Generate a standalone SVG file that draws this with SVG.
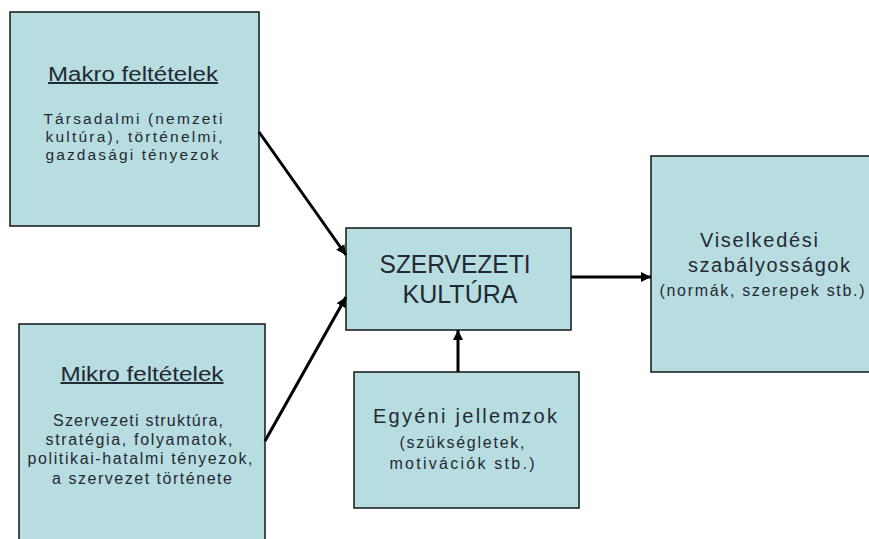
<svg xmlns="http://www.w3.org/2000/svg" width="869" height="539" viewBox="0 0 869 539">
<style>
.box{fill:#B8DDE1;stroke:#1e2426;stroke-width:1.6}
.t{font-family:"Liberation Sans",Arial,sans-serif;fill:#1f2a33;text-anchor:middle}
.title{font-size:20px;text-decoration:underline}
.body{font-size:16px}
.mk{font-size:15.5px}
.big{font-size:25px}
.mid{font-size:20px}
.conn{stroke:#000;stroke-width:3;fill:none}
</style>
<defs>
<marker id="ah" markerUnits="userSpaceOnUse" markerWidth="12" markerHeight="10" refX="10" refY="5" orient="auto">
<path d="M0,0 L10,5 L0,10 Z" fill="#000"/>
</marker>
</defs>
<rect width="869" height="539" fill="#fff"/>
<g id="makro">
<rect class="box" x="10" y="12" width="249" height="214"/>
<text class="t title" x="133" y="81" textLength="170" lengthAdjust="spacingAndGlyphs">Makro feltételek</text>
<text class="t mk" x="133" y="124" textLength="179" lengthAdjust="spacing">Társadalmi (nemzeti</text>
<text class="t mk" x="134" y="142" textLength="177" lengthAdjust="spacing">kultúra), történelmi,</text>
<text class="t mk" x="132" y="160" textLength="173" lengthAdjust="spacing">gazdasági tényezok</text>
</g>
<g id="mikro">
<rect class="box" x="19" y="324" width="246" height="218"/>
<text class="t title" x="142" y="381" textLength="163" lengthAdjust="spacingAndGlyphs">Mikro feltételek</text>
<text class="t body" x="138" y="426" textLength="170" lengthAdjust="spacing">Szervezeti struktúra,</text>
<text class="t body" x="139" y="445" textLength="187" lengthAdjust="spacing">stratégia, folyamatok,</text>
<text class="t body" x="140" y="464" textLength="225" lengthAdjust="spacing">politikai-hatalmi tényezok,</text>
<text class="t body" x="142" y="484" textLength="180" lengthAdjust="spacing">a szervezet története</text>
</g>
<g id="szervezeti">
<rect class="box" x="346" y="228" width="225" height="102"/>
<text class="t big" x="455" y="273" textLength="151" lengthAdjust="spacingAndGlyphs">SZERVEZETI</text>
<text class="t big" x="460" y="303" textLength="115" lengthAdjust="spacingAndGlyphs">KULTÚRA</text>
</g>
<g id="egyeni">
<rect class="box" x="354" y="372" width="225" height="136"/>
<text class="t mid" x="465" y="423" textLength="184" lengthAdjust="spacing">Egyéni jellemzok</text>
<text class="t body" x="462" y="448" textLength="125" lengthAdjust="spacing">(szükségletek,</text>
<text class="t body" x="462" y="469" textLength="145" lengthAdjust="spacing">motivációk stb.)</text>
</g>
<g id="viselkedesi">
<rect class="box" x="651" y="156" width="230" height="216"/>
<text class="t mid" x="759" y="247" textLength="118" lengthAdjust="spacing">Viselkedési</text>
<text class="t mid" x="769" y="272" textLength="162" lengthAdjust="spacing">szabályosságok</text>
<text class="t body" x="762" y="296" textLength="205" lengthAdjust="spacing">(normák, szerepek stb.)</text>
</g>
<g id="connectors">
<line class="conn" x1="259" y1="132" x2="346" y2="255" marker-end="url(#ah)"/>
<line class="conn" x1="265" y1="441" x2="346" y2="297" marker-end="url(#ah)"/>
<line class="conn" x1="571" y1="277" x2="651" y2="277" marker-end="url(#ah)"/>
<line class="conn" x1="458" y1="372" x2="458" y2="330" marker-end="url(#ah)"/>
</g>
</svg>
